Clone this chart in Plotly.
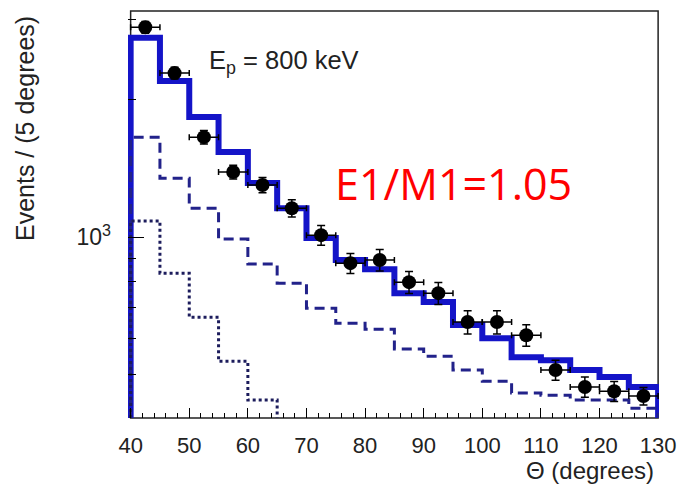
import plotly.graph_objects as go

# ---- data ----
bin_edges = [40, 45, 50, 55, 60, 65, 70, 75, 80, 85, 90, 95, 100, 105, 110, 115, 120, 125, 130]
bin_centers = [42.5, 47.5, 52.5, 57.5, 62.5, 67.5, 72.5, 77.5, 82.5, 87.5, 92.5,
               97.5, 102.5, 107.5, 112.5, 117.5, 122.5, 127.5]
data_counts = [2880, 2285, 1655, 1388, 1300, 1157, 1010, 877, 891, 797, 754,
               652, 652, 610, 512, 470, 460, 449]
data_errors = [85, 68, 56, 48, 50, 50, 50, 44, 48, 44, 42,
               38, 38, 33, 26, 24, 23, 20]
total_fit = [2730, 2195, 1831, 1535, 1313, 1157, 995, 891, 851, 754, 721,
             642, 601, 546, 538, 512, 494, 470]
dashed_comp = [1655, 1346, 1157, 990, 873, 793, 699, 648, 629, 569, 549,
               512, 484, 456, 451, 440, 440, 422]
dotted_comp = [1084, 834, 668, 535, 440, 370, 330, 300, 275, 255, 240,
               225, 212, 200, 190, 182, 175, 168]
floor_value = 100
y_tick_vals = [1000]
y_tick_text = ["10<sup>3</sup>"]
y_minor_vals = [400, 500, 600, 700, 800, 900, 2000, 3000]
x_tick_vals = [40, 50, 60, 70, 80, 90, 100, 110, 120, 130]


def step_xy(edges, vals, floor):
    xs = [edges[0]] + edges[:-1] + [edges[-1], edges[-1]]
    ys = [floor] + vals + [vals[-1], floor]
    return xs, ys


fig = go.Figure()

sx, sy = step_xy(bin_edges, total_fit, floor_value)
fig.add_trace(go.Scatter(x=sx, y=sy, mode="lines", line_shape="hv",
                         line=dict(color="#1414c8", width=6), showlegend=False))
dx, dy = step_xy(bin_edges, dashed_comp, floor_value)
fig.add_trace(go.Scatter(x=dx, y=dy, mode="lines", line_shape="hv",
                         line=dict(color="#22228a", width=3, dash="10px,6px"),
                         showlegend=False))
ox, oy = step_xy(bin_edges, dotted_comp, floor_value)
fig.add_trace(go.Scatter(x=ox, y=oy, mode="lines", line_shape="hv",
                         line=dict(color="#1c1c5c", width=3, dash="3px,3px"),
                         showlegend=False))

fig.add_trace(go.Scatter(
    x=bin_centers, y=data_counts, mode="markers",
    marker=dict(color="black", size=14, symbol="circle"),
    error_x=dict(type="constant", value=2.5, thickness=1.5, width=3, color="black"),
    error_y=dict(type="data", array=data_errors, thickness=1.5, width=4, color="black"),
    showlegend=False))

font_main = "Liberation Sans, Arial, sans-serif"

fig.update_layout(
    width=679, height=485,
    margin=dict(l=128, r=20, t=11, b=67, autoexpand=False),
    paper_bgcolor="white", plot_bgcolor="white",
    font=dict(family=font_main, color="black"),
    xaxis=dict(range=[39.55, 130.15], tickvals=x_tick_vals, automargin=False,
               ticks="inside", ticklen=10, tickwidth=1.2, tickcolor="black",
               showgrid=False, zeroline=False, showline=False,
               tickfont=dict(size=22, family=font_main, color="#222"),
               ticklabelstandoff=12,
               minor=dict(dtick=2, tick0=40, ticks="inside", ticklen=5,
                          tickwidth=1.2, tickcolor="black", showgrid=False)),
    yaxis=dict(type="log", range=[2.6042, 3.4948], automargin=False,
               tickvals=y_tick_vals, ticktext=y_tick_text,
               ticks="inside", ticklen=16, tickwidth=1.2, tickcolor="black",
               showgrid=False, zeroline=False, showline=False,
               tickfont=dict(size=23, family=font_main, color="#222"),
               ticklabelstandoff=16,
               minor=dict(tickvals=y_minor_vals, ticks="inside", ticklen=8,
                          tickwidth=1.2, tickcolor="black", showgrid=False)),
)

# frame box
fig.add_shape(type="rect", xref="x", yref="paper", x0=40, x1=130, y0=0, y1=1,
              line=dict(color="#222", width=1.5), layer="below")

fig.add_annotation(text="Events / (5 degrees)", xref="paper", yref="paper",
                   x=(25 - 128) / 531, y=(418 - 129) / 407,
                   xanchor="center", yanchor="middle",
                   textangle=-90, showarrow=False,
                   font=dict(size=25, family=font_main, color="#222"))
fig.add_annotation(text="\u0398 (degrees)", xref="paper", yref="paper",
                   x=(656 - 128) / 531, y=(418 - 470) / 407,
                   xanchor="right", yanchor="middle",
                   showarrow=False,
                   font=dict(size=24, family=font_main, color="#222"))
fig.add_annotation(text="E<sub>p</sub> = 800 keV", xref="paper", yref="paper",
                   x=(207 - 128) / 531, y=(418 - 62) / 407,
                   xanchor="left", yanchor="middle", showarrow=False,
                   font=dict(size=25.5, family=font_main, color="#222"))
fig.add_annotation(text="E1/M1=1.05", xref="paper", yref="paper",
                   x=(333 - 128) / 531, y=(418 - 183) / 407,
                   xanchor="left", yanchor="middle", showarrow=False,
                   font=dict(size=43, family="Open Sans, sans-serif", color="#ff0000"))

fig.write_html("out.html",
               config={"displayModeBar": False},
               post_script="document.body.style.margin='0';"
                           "document.body.style.overflow='hidden';")
